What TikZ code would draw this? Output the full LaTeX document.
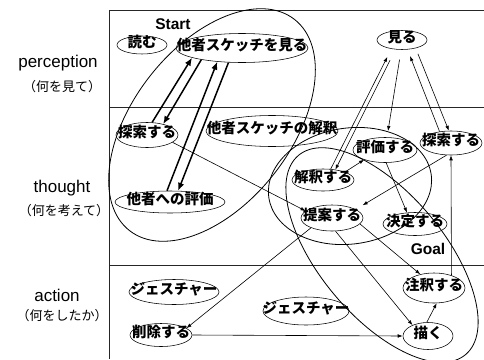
\documentclass[tikz,border=0pt]{standalone}
\usepackage{fontspec}
\setmainfont{Liberation Sans}
\newfontfamily\jp{Noto Sans CJK JP}
\usetikzlibrary{arrows.meta,shapes.geometric}
\begin{document}
\begin{tikzpicture}[x=1pt,y=-1pt,
  oval/.style 2 args={draw, ellipse, line width=0.55pt, inner sep=0pt,
     minimum width=#1pt, minimum height=#2pt, text height=5.4pt, text depth=-5.4pt,
     font=\jp\bfseries\fontsize{14.5pt}{14.5pt}\selectfont},
  frame/.style={line width=0.9pt, black!85},
  group/.style={line width=0.8pt},
  arr/.style={-{Latex[length=5pt,width=3.6pt]}, line width=0.6pt},
  thk/.style={-{Latex[length=8pt,width=6.5pt]}, line width=1.5pt},
  rowlbl/.style={font=\fontsize{17pt}{17pt}\selectfont},
  rowsub/.style={font=\jp\fontsize{13pt}{13pt}\selectfont},
  tagtext/.style={font=\bfseries\fontsize{15.5pt}{15.5pt}\selectfont}
]
\useasboundingbox (0,0) rectangle (484,359);

% frame
\coordinate (f0) at (109,10);
\coordinate (f1) at (484,10);
\coordinate (f2) at (109,359);
\coordinate (f3) at (109,107);
\coordinate (f4) at (484,107);
\coordinate (f5) at (109,265);
\coordinate (f6) at (484,265);
\draw[frame] (f1) -- (f0) -- (f2);
\draw[frame] (f3) -- (f4);
\draw[frame] (f5) -- (f6);

% row labels
\node[rowlbl] (lp) at (58,63) {perception};
\node[rowsub] (lps) at (62,87) {（何を見て）};
\node[rowlbl] (lt) at (62,188) {thought};
\node[rowsub] (lts) at (64,211) {（何を考えて）};
\node[rowlbl] (la) at (57,295) {action};
\node[rowsub] (las) at (62,316) {（何をしたか）};

\node[tagtext] (start) at (173,24) {Start};
\node[tagtext] (goal) at (428,249) {Goal};

% group outlines
\draw[group, rotate around={52:(212,125)}] (212,125) ellipse [x radius=134, y radius=79];
\draw[group, rotate around={8:(350,186)}] (350,186) ellipse [x radius=82, y radius=58];
\draw[group, rotate around={-50:(382,255)}] (382,255) ellipse [x radius=130, y radius=62];

% nodes
\node[oval={50}{18}] (yomu) at (142,45) {\makebox[0pt]{読む}};
\node[oval={132}{29}] (mita) at (242,48) {\makebox[0pt]{他者スケッチを見る}};
\node[oval={50}{19}] (miru) at (402,40) {\makebox[0pt]{見る}};
\node[oval={62}{25}] (tan1) at (147,135) {\makebox[0pt]{探索する}};
\node[oval={132}{31}] (kai0) at (272,131) {\makebox[0pt]{他者スケッチの解釈}};
\node[oval={110}{22}] (hyo0) at (170,202) {\makebox[0pt]{他者への評価}};
\node[oval={64}{25}] (hyoka) at (385,150) {\makebox[0pt]{評価する}};
\node[oval={62}{24}] (tan2) at (451,143) {\makebox[0pt]{探索する}};
\node[oval={62}{22}] (kai) at (323,180) {\makebox[0pt]{解釈する}};
\node[oval={62}{26}] (tei) at (332,218) {\makebox[0pt]{提案する}};
\node[oval={64}{23}] (kettei) at (415,224) {\makebox[0pt]{決定する}};
\node[oval={90}{25}] (ges1) at (174,292) {\makebox[0pt]{ジェスチャー}};
\node[oval={62}{23}] (sakujo) at (161,335) {\makebox[0pt]{削除する}};
\node[oval={86}{28}] (ges2) at (306,311) {\makebox[0pt]{ジェスチャー}};
\node[oval={62}{30}] (chu) at (434,288) {\makebox[0pt]{注釈する}};
\node[oval={50}{27}] (egaku) at (428,336) {\makebox[0pt]{描く}};

\coordinate (grptop) at (388,131);

% thick arrows
\draw[thk] (tan1.68) -- (mita.191);
\draw[thk] (mita.196) -- (tan1.34);
\draw[thk] (hyo0.105) -- (mita.209);
\draw[thk] (mita.227) -- (hyo0.54);

% thin arrows
\draw[arr] (tan1.344) -- (tei.165);
\draw[arr] (tei.205) -- (sakujo.15);
\draw[arr] (sakujo.east) -- (egaku.west);
\draw[arr] (tei.285) -- (egaku.145);
\draw[arr] (tei.348) -- (chu.135);
\draw[arr] (egaku.95) -- (chu.280);
\draw[arr] (chu.36) -- (tan2.south);
\draw[arr] (hyoka.275) -- (kettei.125);
\draw[arr, shorten >=8pt] (tan2.250) -- (tei.20);
\draw[arr, shorten <=12pt] (miru.235) -- (kai.40);
\draw[arr, shorten >=9pt] (kai.55) -- (miru.220);
\draw[arr] (kai.20) -- (hyoka.205);
\draw[arr, shorten <=10pt] (miru.265) -- (grptop);
\draw[arr, shorten <=6pt] (miru.329) -- (tan2.100);
\draw[arr, shorten >=7pt] (tan2.135) -- (miru.300);
\end{tikzpicture}
\end{document}
